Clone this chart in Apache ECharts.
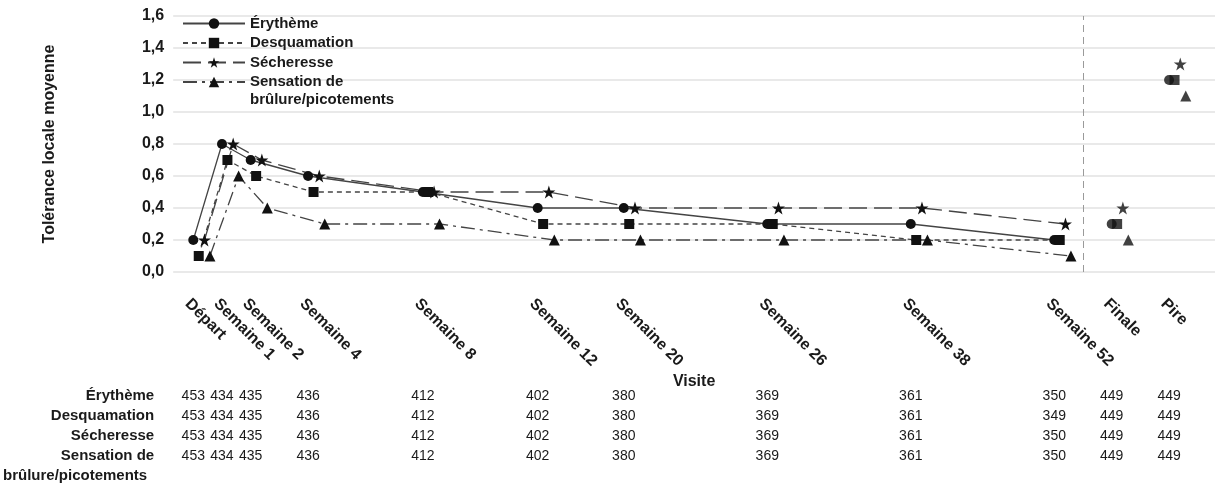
<!DOCTYPE html>
<html><head><meta charset="utf-8">
<script src="https://cdn.jsdelivr.net/npm/echarts@6/dist/echarts.min.js"></script>
<style>html,body{margin:0;padding:0;background:#fff}#c{width:1215px;height:491px}</style>
</head><body><div id="c"></div>
<script>
// ---- data ----
const visits = ['Départ','Semaine 1','Semaine 2','Semaine 4','Semaine 8','Semaine 12','Semaine 20','Semaine 26','Semaine 38','Semaine 52','Finale','Pire'];
const visitPos = [0,1,2,4,8,12,15,20,25,30,32,34];   // x-axis coordinate of each visit
const separatorPos = 31;                             // dashed line between Semaine 52 and Finale
const lastTimed = 9;                                 // index of Semaine 52 (end of connected line)

const erytheme     = [0.2,0.8,0.7,0.6,0.5,0.4,0.4,0.3,0.3,0.2,0.3,1.2];
const desquamation = [0.1,0.7,0.6,0.5,0.5,0.3,0.3,0.3,0.2,0.2,0.3,1.2];
const secheresse   = [0.2,0.8,0.7,0.6,0.5,0.5,0.4,0.4,0.4,0.3,0.4,1.3];
const sensation    = [0.1,0.6,0.4,0.3,0.3,0.2,0.2,0.2,0.2,0.1,0.2,1.1];

const nErytheme     = [453,434,435,436,412,402,380,369,361,350,449,449];
const nDesquamation = [453,434,435,436,412,402,380,369,361,349,449,449];
const nSecheresse   = [453,434,435,436,412,402,380,369,361,350,449,449];
const nSensation    = [453,434,435,436,412,402,380,369,361,350,449,449];

const yTickLabels = ['0,0','0,2','0,4','0,6','0,8','1,0','1,2','1,4','1,6'];

// ---- styling ----
const FONT = "'Liberation Sans', Arial, Helvetica, sans-serif";
const TXT = '#1a1a1a';
const LINE = '#444444';
const MARK = '#111111';
const STAR = 'path://M50,0 L61.8,35.4 L99,35.4 L68.8,57.3 L80.4,92.7 L50,70.8 L19.6,92.7 L31.2,57.3 L1,35.4 L38.2,35.4 Z';

const defs = [
  {name:'Érythème', vals:erytheme, n:nErytheme, row:'Érythème', symbol:'circle', size:10, dx:0, dash:'solid'},
  {name:'Desquamation', vals:desquamation, n:nDesquamation, row:'Desquamation', symbol:'rect', size:10, dx:0.19, dash:[5,4]},
  {name:'Sécheresse', vals:secheresse, n:nSecheresse, row:'Sécheresse', symbol:STAR, size:13, dx:0.39, dash:[18,7]},
  {name:'Sensation de brûlure/picotements', vals:sensation, n:nSensation, row:'Sensation de', symbol:'triangle', size:11, dx:0.58, dash:[14,5,3,5]}
];

function labelAt(v, arr){
  const i = visitPos.findIndex(p => Math.abs(p - v) < 1e-6);
  return i >= 0 ? String(arr[i]) : '';
}

const XMIN = -0.7, XMAX = 35.6;
const xCommon = {type:'value', min:XMIN, max:XMAX, gridIndex:0, position:'bottom',
  axisLine:{show:false}, axisTick:{show:false}, splitLine:{show:false}, nameMoveOverlap:false};

const xAxes = [Object.assign({}, xCommon, {
  name:'Visite', nameLocation:'middle', nameGap:102,
  nameTextStyle:{fontFamily:FONT, fontWeight:'bold', fontSize:16, color:TXT},
  axisLabel:{customValues:visitPos, formatter:v => labelAt(v, visits), rotate:-45, margin:35,
    padding:[0,0,0,-8],
    fontFamily:FONT, fontWeight:'bold', fontSize:16, color:TXT}
})];

const rowOffsets = [124,144,164,184];
defs.forEach((d, k) => {
  xAxes.push(Object.assign({}, xCommon, {
    offset: rowOffsets[k],
    name: d.row, nameLocation:'start', nameGap:19,
    nameTextStyle:{fontFamily:FONT, fontWeight:'bold', fontSize:15, color:TXT, align:'right', verticalAlign:'middle'},
    axisLabel:{customValues:visitPos, formatter:v => labelAt(v, d.n), margin:0, verticalAlign:'middle',
      fontFamily:FONT, fontSize:14, color:TXT}
  }));
});
xAxes.push(Object.assign({}, xCommon, {
  offset: 204, name:'brûlure/picotements', nameLocation:'start', nameGap:26,
  nameTextStyle:{fontFamily:FONT, fontWeight:'bold', fontSize:15, color:TXT, align:'right', verticalAlign:'middle'},
  axisLabel:{show:false}
}));

const series = [];
defs.forEach((d, k) => {
  const lineData = d.vals.slice(0, lastTimed + 1).map((y, i) => [visitPos[i] + d.dx, y]);
  const endData = d.vals.slice(lastTimed + 1).map((y, i) => [visitPos[lastTimed + 1 + i] + d.dx, y]);
  const s = {
    name:d.name, type:'line', xAxisIndex:0, yAxisIndex:0, data:lineData,
    symbol:d.symbol, symbolSize:d.size, showSymbol:true,
    lineStyle:{color:LINE, width:1.3, type:d.dash},
    itemStyle:{color:MARK, borderWidth:0},
    z: 3
  };
  if (k === 0) {
    s.markLine = {silent:true, symbol:['none','none'], label:{show:false},
      lineStyle:{color:'#9a9a9a', type:[7,5], width:1},
      data:[{xAxis:separatorPos}]};
  }
  series.push(s);
  series.push({
    name:d.name + ' (fin)', type:'scatter', xAxisIndex:0, yAxisIndex:0, data:endData,
    symbol:d.symbol, symbolSize:d.size, itemStyle:{color:MARK}, z:4
  });
});

const chart = echarts.init(document.getElementById('c'), null, {renderer:'canvas'});
chart.setOption({
  animation:false,
  backgroundColor:'#ffffff',
  grid:{left:172, right:0, top:16, bottom:219, containLabel:false},
  legend:{
    data:defs.map(d => d.name), orient:'vertical', left:177, top:11,
    itemWidth:62, itemHeight:13, itemGap:4.5,
    formatter:n => n === 'Sensation de brûlure/picotements' ? 'Sensation de' : n,
    textStyle:{fontFamily:FONT, fontWeight:'bold', fontSize:15, color:TXT, lineHeight:15}
  },
  graphic:[{type:'text', left:250, top:92, silent:true,
    style:{text:'brûlure/picotements', font:'bold 15px ' + FONT, fill:TXT}}],
  xAxis:xAxes,
  yAxis:{
    type:'value', min:0, max:1.6, interval:0.2,
    axisLine:{show:false}, axisTick:{show:false},
    splitLine:{lineStyle:{color:'#e2e2e2', width:1.5}},
    axisLabel:{formatter:(v) => yTickLabels[Math.round(v / 0.2)], margin:9,
      fontFamily:FONT, fontWeight:'bold', fontSize:16, color:TXT},
    name:'Tolérance locale moyenne', nameLocation:'middle', nameGap:116, nameMoveOverlap:false,
    nameTextStyle:{fontFamily:FONT, fontWeight:'bold', fontSize:16, color:TXT}
  },
  series:series
});
</script></body></html>
